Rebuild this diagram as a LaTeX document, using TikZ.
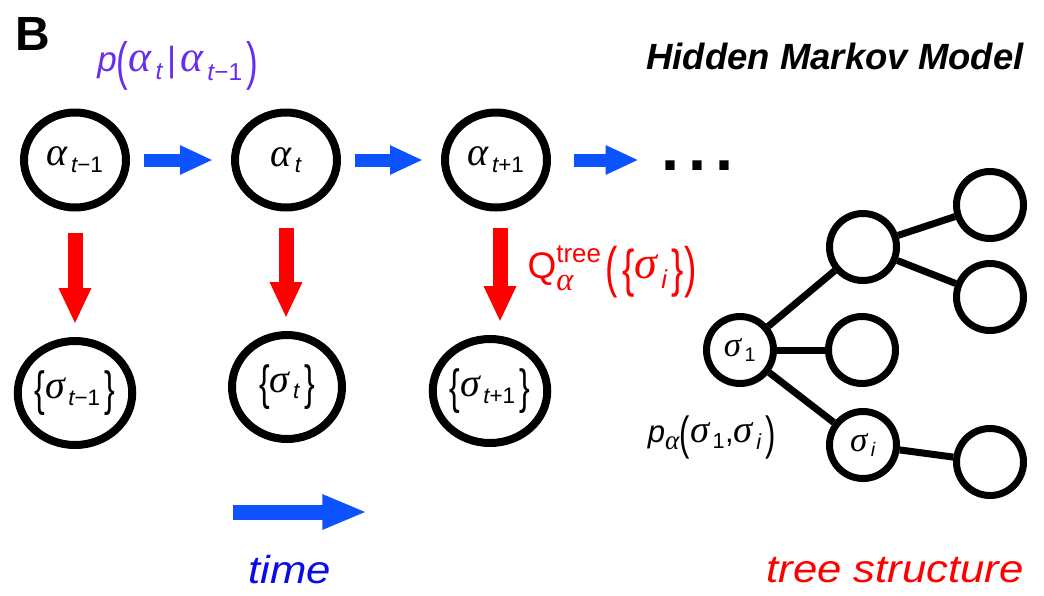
\documentclass[tikz,border=0pt]{standalone}
\usepackage{amsmath}
\usepackage{graphicx}
\usepackage{fontspec}
\setmainfont{Liberation Sans}
\newfontfamily\widesans[FakeStretch=1.12]{Liberation Sans}
\newfontfamily\grk[Scale=1.25]{Liberation Serif}
\usetikzlibrary{arrows.meta,shapes.geometric}
\definecolor{hmmblue}{RGB}{12,82,255}
\definecolor{txtblue}{RGB}{10,10,235}
\definecolor{hmmred}{RGB}{255,0,0}
\definecolor{hmmpurple}{RGB}{105,45,240}
\newcommand\Ga{\text{\grk\itshape α}}
\newcommand\Gs{\text{\grk\itshape σ}}
\newcommand\It[1]{\text{\itshape #1}}
\newcommand\Tx[1]{\text{#1}}
% tall delimiters drawn from the text font
\newcommand\Dl[2]{\raisebox{-0.22em}{\scalebox{1}[#1]{#2}}}
\tikzset{
  hid/.style={ellipse, draw, line width=8pt, minimum width=102pt, minimum height=95pt, inner sep=0pt, font=\fontsize{32}{38}\selectfont},
  obs/.style={ellipse, draw, line width=8pt, minimum width=110pt, minimum height=104pt, inner sep=0pt, font=\fontsize{32}{38}\selectfont},
  tnode/.style={circle, draw, line width=7pt, minimum size=67pt, inner sep=0pt, font=\fontsize{28}{32}\selectfont},
  tedge/.style={line width=7pt},
  trans/.style={hmmblue, line width=13pt, -{Triangle[length=33pt,width=27pt]}},
  emit/.style={hmmred, line width=15pt, -{Triangle[length=36pt,width=30pt]}},
  timearrow/.style={hmmblue, line width=15pt, -{Triangle[length=45pt,width=32pt]}},
  lbl/.style={inner sep=0pt}
}
\begin{document}
\begin{tikzpicture}[x=1pt,y=-1pt]
\useasboundingbox (0,0) rectangle (1044,595);
% title letters
\node[lbl, font=\fontsize{48}{52}\selectfont\bfseries] (B) at (33,34) {B};
\node[lbl, font=\fontsize{36.5}{40}\selectfont\bfseries\itshape] (title) at (835,56) {Hidden Markov Model};
% hidden chain
\node[hid] (a1) at (75,160) {$\Ga_{\,\It{t}\Tx{−1}}$};
\node[hid] (a2) at (286,160) {$\Ga_{\,\It{t}}$};
\node[hid] (a3) at (496,160) {$\Ga_{\,\It{t}\Tx{+1}}$};
\node[lbl, minimum width=60pt, font=\fontsize{65}{65}\selectfont\bfseries] (dots) at (698,166) {.\hspace{9pt}.\hspace{9pt}.};
% observations
\node[obs] (s1) at (75,393) {$\Dl{1.5}{\{}\Gs_{\,\It{t}\Tx{−1}}\,\Dl{1.5}{\}}$};
\node[obs] (s2) at (287,387) {$\Dl{1.5}{\{}\Gs_{\,\It{t}}\,\Dl{1.5}{\}}$};
\node[obs] (s3) at (490,391) {$\Dl{1.5}{\{}\Gs_{\,\It{t}\Tx{+1}}\,\Dl{1.5}{\}}$};
% transitions
\draw[trans, shorten <=14pt, shorten >=18pt] (a1) -- (a2);
\draw[trans, shorten <=14pt, shorten >=18pt] (a2) -- (a3);
\draw[trans, shorten <=23pt, shorten >=23pt] (a3) -- (a3 -| dots.west);
% emissions
\draw[emit, shorten <=21pt, shorten >=13pt] (a1) -- (a1 |- s1.north);
\draw[emit, shorten <=16pt, shorten >=13pt] (a2) -- (a2 |- s2.north);
\draw[emit, shorten <=16pt, shorten >=13pt] ([xshift=4pt]a3.south) -- ([xshift=4pt]a3.south |- s3.north);
% labels
\node[lbl, text=hmmpurple, font=\fontsize{35}{42}\selectfont] (plabel) at (178,66)
  {$\It{p}\Dl{1.5}{(}\Ga_{\,\It{t}}\,\Tx{|}\,\Ga_{\,\It{t}\Tx{−1}}\,\Dl{1.5}{)}$};
\node[lbl, text=hmmred, font=\fontsize{37}{42}\selectfont] (qlabel) at (612,272)
  {$\Tx{Q}^{\Tx{tree}}_{\raisebox{-4pt}{$\scriptstyle\Ga$}}\,\Dl{1.5}{(}\,\Dl{1.4}{\{}\Gs_{\,\It{i}}\,\Dl{1.4}{\}}\Dl{1.5}{)}$};
% tree
\node[tnode] (n1) at (740,350) {$\Gs_{\,\Tx{1}}$};
\node[tnode] (n2) at (863,247) {};
\node[tnode] (n3) at (862,350) {};
\node[tnode] (n4) at (863,445) {$\Gs_{\,\It{i}}$};
\node[tnode] (n5) at (990,205) {};
\node[tnode] (n6) at (990,297) {};
\node[tnode] (n7) at (990,462) {};
\draw[tedge] (n1) -- (n2);
\draw[tedge] (n1) -- (n3);
\draw[tedge] (n1) -- (n4);
\draw[tedge] (n2) -- (n5);
\draw[tedge] (n2) -- (n6);
\draw[tedge] (n4) -- (n7);
\node[lbl, font=\fontsize{31}{36}\selectfont] (palabel) at (712,437)
  {$\It{p}_{\Ga}\Dl{1.5}{(}\Gs_{\,\Tx{1}}\Tx{,}\Gs_{\,\It{i}}\,\Dl{1.5}{)}$};
% time arrow and bottom labels
\node[lbl] (tstart) at (232,512) {};
\node[lbl] (tend) at (368,512) {};
\draw[timearrow] (tstart) -- (tend);
\node[lbl, text=txtblue, font=\fontsize{39}{44}\selectfont\widesans\itshape] (time) at (290,570) {time};
\node[lbl, text=hmmred, font=\fontsize{39}{44}\selectfont\widesans\itshape] (tree) at (895,570) {tree structure};
\end{tikzpicture}
\end{document}
